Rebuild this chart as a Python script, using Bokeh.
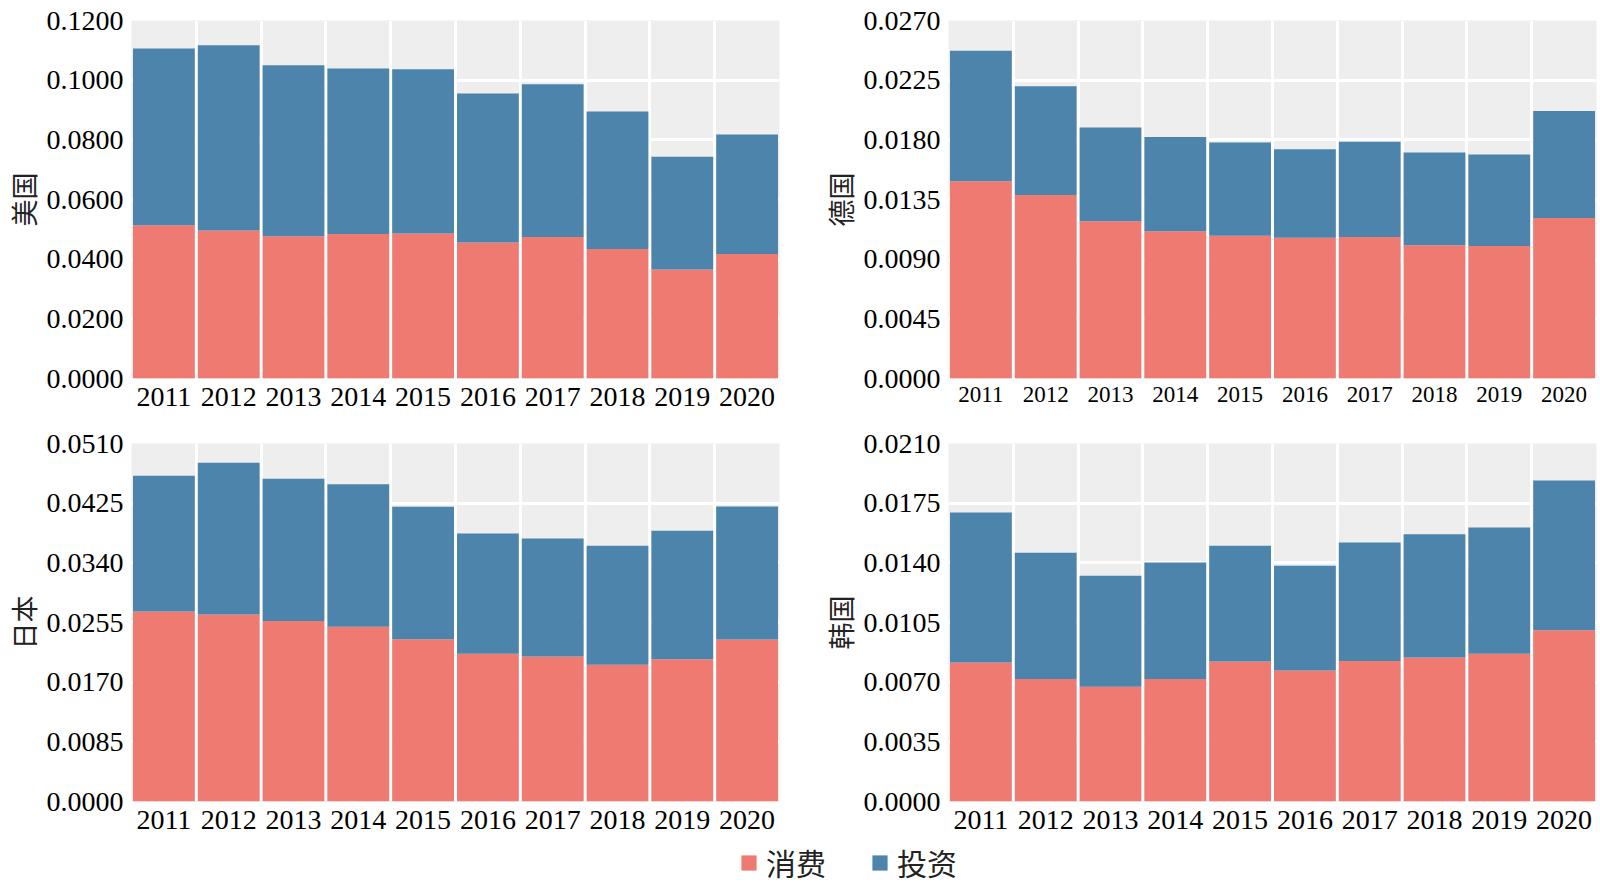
from bokeh.plotting import figure
from bokeh.layouts import column, row
from bokeh.models import Range1d, FixedTicker, Legend, LegendItem, NumeralTickFormatter
from bokeh.embed import file_html
from bokeh.resources import INLINE

years = [2011, 2012, 2013, 2014, 2015, 2016, 2017, 2018, 2019, 2020]
year_labels = [str(y) for y in years]
series_names = ["消费", "投资"]

us_consumption = [0.0514, 0.0496, 0.0477, 0.0484, 0.0486, 0.0456, 0.0474, 0.0434, 0.0365, 0.0417]
us_investment = [0.0592, 0.0621, 0.0573, 0.0555, 0.0551, 0.0499, 0.0512, 0.0461, 0.0378, 0.0401]
us_ticks = [0.0, 0.02, 0.04, 0.06, 0.08, 0.10, 0.12]

de_consumption = [0.01488, 0.01383, 0.01186, 0.01111, 0.01076, 0.01061, 0.01068, 0.01005, 0.01000, 0.01211]
de_investment = [0.00983, 0.00822, 0.00707, 0.00711, 0.00704, 0.00668, 0.00717, 0.00700, 0.00690, 0.00807]
de_ticks = [0.0, 0.0045, 0.009, 0.0135, 0.018, 0.0225, 0.027]

jp_consumption = [0.02707, 0.02664, 0.02570, 0.02489, 0.02313, 0.02104, 0.02066, 0.01947, 0.02028, 0.02308]
jp_investment = [0.01933, 0.02161, 0.02027, 0.02032, 0.01885, 0.01714, 0.01681, 0.01695, 0.01828, 0.01895]
jp_ticks = [0.0, 0.0085, 0.017, 0.0255, 0.034, 0.0425, 0.051]

kr_consumption = [0.00815, 0.00718, 0.00673, 0.00718, 0.00821, 0.00768, 0.00824, 0.00845, 0.00866, 0.01005]
kr_investment = [0.00880, 0.00741, 0.00651, 0.00684, 0.00679, 0.00615, 0.00695, 0.00723, 0.00741, 0.00878]
kr_ticks = [0.0, 0.0035, 0.007, 0.0105, 0.014, 0.0175, 0.021]

RED = "#EF7A72"
BLUE = "#4C84AC"
BG = "#EEEEEE"
SERIF = "'Liberation Serif', 'Times New Roman', serif"
CJK = "'Noto Sans CJK SC', sans-serif"


def make_panel(name, cons, inv, ticks, left, right, top, bottom, xfont, xstandoff):
    p = figure(frame_width=648, frame_height=358,
               x_range=Range1d(years[0] - 0.5, years[-1] + 0.5),
               y_range=Range1d(ticks[0], ticks[-1]),
               toolbar_location=None, output_backend="svg",
               min_border_left=left, min_border_right=right,
               min_border_top=top, min_border_bottom=bottom,
               background_fill_color=BG, border_fill_color="white",
               outline_line_color=None)
    data = {"year": years, "消费": cons, "投资": inv}
    p.vbar_stack(series_names, x="year", width=0.954, source=data,
                 fill_color=[RED, BLUE], line_color=None)
    # grid
    p.ygrid.ticker = FixedTicker(ticks=ticks)
    p.ygrid.grid_line_color = "white"
    p.ygrid.grid_line_width = 3
    p.xgrid.ticker = FixedTicker(ticks=[y + 0.5 for y in years[:-1]])
    p.xgrid.grid_line_color = "white"
    p.xgrid.grid_line_width = 3
    # axes
    p.xaxis.ticker = FixedTicker(ticks=years)
    p.xaxis.major_label_overrides = {y: s for y, s in zip(years, year_labels)}
    p.yaxis.ticker = FixedTicker(ticks=ticks)
    p.yaxis.formatter = NumeralTickFormatter(format="0.0000")
    for ax in (p.xaxis[0], p.yaxis[0]):
        ax.axis_line_color = None
        ax.major_tick_line_color = None
        ax.minor_tick_line_color = None
        ax.major_tick_out = 0
        ax.major_tick_in = 0
        ax.minor_tick_out = 0
        ax.minor_tick_in = 0
        ax.major_label_text_font = SERIF
        ax.major_label_text_color = "black"
    p.yaxis.major_label_text_font_size = "28px"
    p.yaxis.major_label_standoff = 8
    p.xaxis.major_label_text_font_size = xfont
    p.xaxis.major_label_standoff = xstandoff
    p.yaxis.axis_label = name
    p.yaxis.axis_label_text_font = CJK
    p.yaxis.axis_label_text_font_style = "normal"
    p.yaxis.axis_label_text_font_size = "27px"
    p.yaxis.axis_label_text_color = "#222222"
    p.yaxis.axis_label_standoff = 1
    return p


p_us = make_panel("美国", us_consumption, us_investment, us_ticks, 131, 17, 20, 45, "28px", 9)
p_de = make_panel("德国", de_consumption, de_investment, de_ticks, 152, 2, 20, 45, "23px", 8)
p_jp = make_panel("日本", jp_consumption, jp_investment, jp_ticks, 131, 17, 20, 40, "28px", 9)
p_kr = make_panel("韩国", kr_consumption, kr_investment, kr_ticks, 152, 2, 20, 40, "28px", 9)

lg = figure(width=1598, height=43, x_range=Range1d(0, 1), y_range=Range1d(0, 1),
            toolbar_location=None, output_backend="svg", min_border=0,
            outline_line_color=None, background_fill_color="white")
lg.axis.visible = False
lg.grid.visible = False
# legend proxies drawn outside the visible range
r_c = lg.vbar(x=[5], top=[1], width=0.1, fill_color=RED, line_color=None)
r_i = lg.vbar(x=[5], top=[1], width=0.1, fill_color=BLUE, line_color=None)
legend = Legend(items=[LegendItem(label=series_names[0], renderers=[r_c]),
                       LegendItem(label=series_names[1], renderers=[r_i])],
                location=(739, 0), orientation="horizontal",
                glyph_width=19, glyph_height=19, label_standoff=8, spacing=44,
                label_text_font=CJK, label_text_font_size="30px",
                label_text_color="#222222",
                padding=0, margin=0, border_line_color=None,
                background_fill_alpha=0)
lg.add_layout(legend)

layout = column(row(p_us, p_de), row(p_jp, p_kr), lg)

open("out.html", "w").write(file_html(layout, INLINE))
